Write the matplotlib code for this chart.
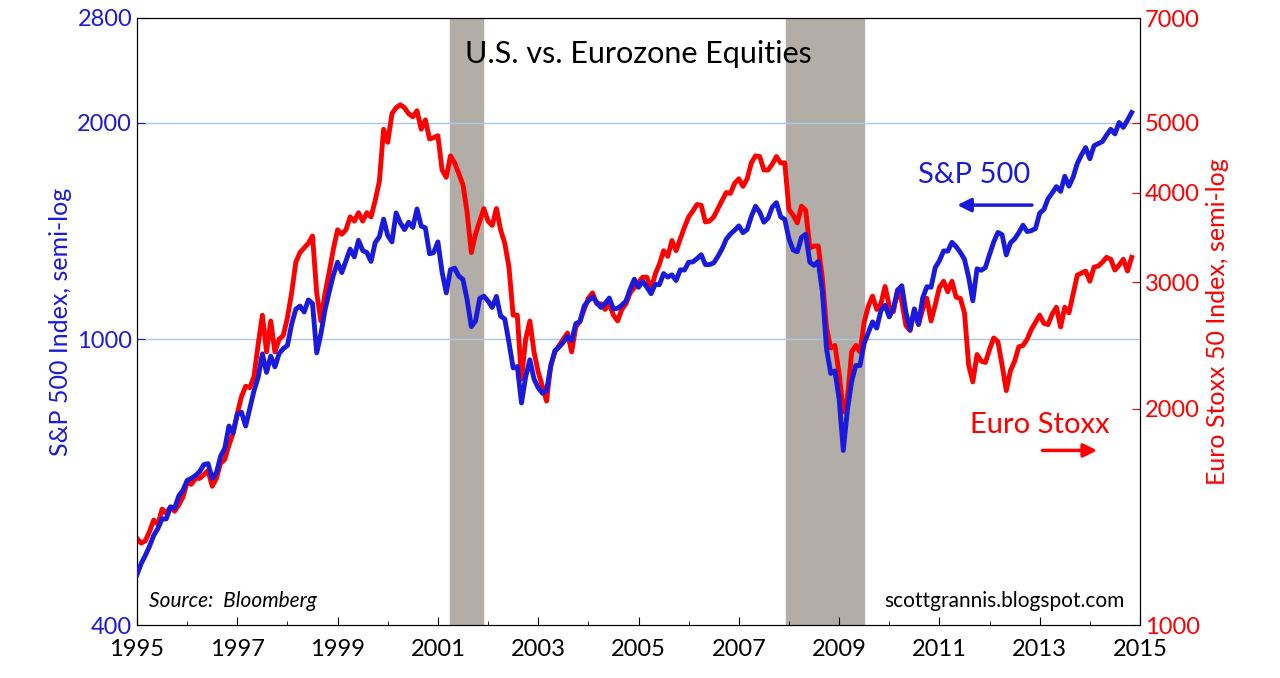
import numpy as np
import matplotlib
matplotlib.use("Agg")
import matplotlib.pyplot as plt
from matplotlib.ticker import FixedLocator, NullLocator

spx = [470,487,500,515,533,545,562,562,584,582,605,616,
636,640,646,654,669,671,640,652,687,705,757,741,
786,791,757,801,848,885,954,899,947,915,955,970,
980,1049,1101,1112,1091,1134,1121,957,1017,1099,1164,1229,
1280,1238,1286,1335,1302,1373,1329,1320,1283,1363,1389,1469,
1394,1366,1499,1452,1421,1455,1431,1518,1437,1429,1315,1320,
1366,1240,1160,1249,1256,1224,1211,1134,1041,1060,1139,1148,
1130,1107,1147,1077,1067,990,912,916,815,886,936,880,
856,841,848,917,964,975,990,1008,996,1051,1058,1112,
1131,1145,1126,1107,1121,1141,1102,1104,1115,1130,1174,1212,
1181,1204,1181,1157,1192,1191,1234,1220,1229,1207,1249,1248,
1280,1281,1295,1311,1270,1270,1277,1304,1336,1378,1401,1418,
1438,1407,1421,1482,1531,1503,1455,1474,1527,1549,1481,1468,
1379,1331,1323,1386,1400,1280,1267,1283,1165,969,896,903,
826,700,798,873,919,919,987,1021,1057,1036,1096,1115,
1074,1104,1169,1187,1089,1031,1102,1049,1141,1183,1181,1258,
1286,1327,1326,1364,1345,1321,1292,1219,1131,1253,1247,1258,
1312,1366,1408,1398,1310,1362,1379,1407,1441,1412,1416,1426,
1498,1515,1569,1598,1631,1606,1686,1633,1682,1757,1806,1848,
1783,1859,1872,1884,1924,1960,1931,2003,1972,2018,2068]

sx5e = [1320,1300,1310,1350,1400,1380,1450,1430,1460,1440,1470,1507,
1580,1570,1600,1600,1620,1640,1560,1600,1680,1700,1780,1850,
1970,2080,2150,2140,2220,2460,2700,2400,2650,2400,2500,2530,
2680,2900,3200,3300,3350,3400,3480,2900,2650,2900,3100,3340,
3550,3500,3550,3700,3650,3750,3650,3750,3700,3900,4150,4900,
4700,5150,5250,5300,5250,5150,5100,5200,4900,5050,4750,4770,
4800,4300,4200,4500,4400,4250,4100,3750,3300,3500,3650,3800,
3650,3600,3800,3550,3400,3150,2700,2700,2200,2500,2650,2400,
2250,2150,2050,2300,2400,2450,2500,2550,2400,2600,2650,2750,
2850,2900,2800,2800,2750,2800,2700,2650,2750,2800,2900,2950,
3000,3050,3050,2930,3080,3180,3320,3260,3430,3320,3450,3580,
3700,3770,3850,3840,3640,3650,3700,3800,3900,4000,3990,4120,
4180,4080,4180,4400,4500,4490,4300,4300,4380,4490,4400,4400,
3790,3720,3630,3830,3780,3350,3370,3370,3040,2590,2430,2450,
2240,1980,2070,2400,2450,2400,2640,2780,2870,2750,2800,2960,
2780,2730,2930,2820,2610,2570,2740,2620,2750,2850,2650,2790,
2950,3010,2910,3010,2860,2850,2720,2300,2180,2380,2330,2320,
2420,2510,2480,2300,2120,2260,2330,2440,2450,2500,2580,2640,
2700,2630,2620,2710,2770,2600,2770,2720,2890,3070,3090,3110,
3010,3150,3160,3200,3250,3230,3120,3170,3230,3110,3250]

recessions = [(2001.25, 2001.9), (2007.95, 2009.5)]
years = 1995 + np.arange(len(spx)) / 12

plt.rcParams['font.family'] = ['Lato', 'DejaVu Sans']
fig = plt.figure(figsize=(12.8, 6.78), dpi=100)
ax = fig.add_axes([137/1280, 1-625/678, (1140-137)/1280, (625-18)/678])
ax2 = ax.twinx()

for a, b in recessions:
    ax2.axvspan(a, b, color='#b3ada8', zorder=0)
ax.set_yscale('log'); ax2.set_yscale('log')
ax.set_ylim(400, 2800); ax2.set_ylim(1000, 7000)
ax.set_xlim(1995, 2015)
for v in [1000, 2000]:
    ax2.axhline(v * 2.5, color='#a9c8e8', lw=1, zorder=1)

ax2.plot(years, sx5e, color='#ff0000', lw=3.5, zorder=3)
ax.plot(years, spx, color='#1a1adc', lw=3.5, zorder=3)
ax.set_zorder(ax2.get_zorder()+1); ax.patch.set_visible(False)

ax.yaxis.set_major_locator(FixedLocator([400, 1000, 2000, 2800]))
ax.yaxis.set_minor_locator(NullLocator())
ax.set_yticklabels(['400', '1000', '2000', '2800'])
ax2.yaxis.set_major_locator(FixedLocator([1000, 2000, 3000, 4000, 5000, 7000]))
ax2.yaxis.set_minor_locator(NullLocator())
ax2.set_yticklabels(['1000', '2000', '3000', '4000', '5000', '7000'])
ax.set_xticks(range(1995, 2016, 2))
ax.tick_params(axis='y', colors='#1a1adc', labelsize=17, direction='in', length=6)
ax2.tick_params(axis='y', colors='#ff0000', labelsize=17, direction='in', length=6)
ax.tick_params(axis='x', labelsize=17, direction='in', length=6, pad=10)
ax.set_xticks(np.arange(1995, 2015, 1), minor=True)
ax.tick_params(axis='x', which='minor', direction='in', length=3)
ax.set_ylabel('S&P 500 Index, semi-log', color='#1a1adc', fontsize=18)
ax2.set_ylabel('Euro Stoxx 50 Index, semi-log', color='#ff0000', fontsize=18)

ax.text(0.5, 0.94, 'U.S. vs. Eurozone Equities', transform=ax.transAxes, ha='center', va='center', fontsize=22)
ax.text(0.012, 0.03, 'Source:  Bloomberg', transform=ax.transAxes, fontsize=15, style='italic')
ax.text(0.985, 0.03, 'scottgrannis.blogspot.com', transform=ax.transAxes, fontsize=15, ha='right')
ax.text(2011.7, 1690, 'S&P 500', color='#1a1adc', fontsize=21, ha='center', va='center')
ax.annotate('', xy=(2011.3, 1537), xytext=(2012.9, 1537),
            arrowprops=dict(arrowstyle='-|>', color='#1a1adc', lw=2.5, mutation_scale=20))
ax2.text(2013.0, 1897, 'Euro Stoxx', color='#ff0000', fontsize=21, ha='center', va='center')
ax2.annotate('', xy=(2014.2, 1750), xytext=(2013.0, 1750),
             arrowprops=dict(arrowstyle='-|>', color='#ff0000', lw=2.5, mutation_scale=20))
fig.savefig('out.png', dpi=100)
